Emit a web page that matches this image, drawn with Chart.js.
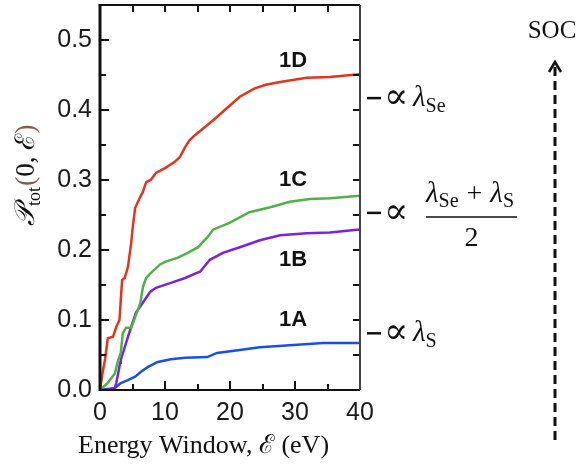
<!DOCTYPE html>
<html>
<head>
<meta charset="utf-8">
<script src="https://cdn.jsdelivr.net/npm/chart.js@4/dist/chart.umd.min.js"></script>
<style>
  html, body { margin: 0; padding: 0; background: #fff; }
  #wrap { width: 587px; height: 465px; }
</style>
</head>
<body>
<div id="wrap"><canvas id="socChart" width="587" height="465"></canvas></div>
<script>
// --- data ---
const energy1D = [0, 0.4, 0.8, 1.2, 2.0, 2.5, 3.0, 3.2, 3.4, 3.8, 4.3, 4.8, 5.0, 5.4, 6.2, 6.6, 7.1, 7.8, 8.6, 10, 11.5, 12.3, 13.1, 13.8, 14.6, 16.2, 17.5, 19.2, 21.5, 23.8, 25.5, 27.7, 31.8, 35.4, 37.4, 40];
const prob1D   = [0, 0.025, 0.045, 0.074, 0.076, 0.09, 0.1, 0.129, 0.157, 0.16, 0.176, 0.21, 0.229, 0.26, 0.276, 0.283, 0.297, 0.30, 0.31, 0.317, 0.326, 0.333, 0.347, 0.357, 0.364, 0.376, 0.386, 0.40, 0.419, 0.431, 0.436, 0.44, 0.446, 0.447, 0.449, 0.451];

const energy1C = [0, 1.2, 2.3, 2.8, 3.2, 3.5, 4.0, 4.8, 5.4, 6.2, 6.6, 7.1, 7.8, 9.2, 10, 12, 13.5, 15.1, 16.5, 17.4, 20, 23, 26.2, 29.2, 32.3, 35.4, 39.5, 40];
const prob1C   = [0, 0.01, 0.024, 0.043, 0.053, 0.081, 0.089, 0.089, 0.104, 0.124, 0.147, 0.16, 0.167, 0.179, 0.183, 0.189, 0.196, 0.204, 0.218, 0.229, 0.239, 0.254, 0.261, 0.269, 0.273, 0.274, 0.277, 0.278];

const energy1B = [0, 1.5, 2.3, 2.5, 2.8, 3.1, 3.2, 3.8, 4.3, 4.8, 5.5, 6.9, 7.7, 8.6, 10.9, 13.1, 14.8, 15.4, 16.9, 18.9, 21.5, 24.6, 27.7, 31.8, 35.4, 39.5, 40];
const prob1B   = [0, 0.001, 0.003, 0.01, 0.024, 0.039, 0.043, 0.061, 0.076, 0.09, 0.11, 0.129, 0.14, 0.146, 0.153, 0.16, 0.167, 0.169, 0.186, 0.196, 0.204, 0.214, 0.221, 0.224, 0.225, 0.229, 0.229];

const energy1A = [0, 2.3, 3.2, 4.3, 5.4, 6.3, 7.4, 8.9, 10.9, 13.1, 16.5, 18, 21.5, 24.6, 29.2, 34.3, 40];
const prob1A   = [0, 0.003, 0.01, 0.014, 0.019, 0.026, 0.033, 0.04, 0.044, 0.046, 0.047, 0.053, 0.057, 0.061, 0.064, 0.067, 0.067];

// curve labels
const curveNames  = ['1D', '1C', '1B', '1A'];
const curveLabelE = [29.7, 29.7, 29.7, 29.7];
const curveLabelP = [0.47, 0.30, 0.186, 0.10];

// levels of the right-hand markers
const markerLevels = [0.417, 0.253, 0.081];

const xTicks = { min: 0, max: 40, step: 10, minor: 5 };
const yTicks = { min: 0, max: 0.55, step: 0.1, minor: 0.05, top: 0.5 };

function pairs(xs, ys) {
    return xs.map(function (e, i) { return { x: e, y: ys[i] }; });
}

// draw a row of text runs (font, colour, baseline shift)
function drawRuns(ctx, x, y, runs) {
    runs.forEach(function (r) {
        ctx.font = r.font;
        ctx.fillStyle = r.color || '#111';
        ctx.fillText(r.t, x, y + (r.dy || 0));
        x += ctx.measureText(r.t).width + (r.gap || 0);
    });
    return x;
}

const serif = '"Liberation Serif", "DejaVu Serif", serif';
const tickFont = '"Liberation Sans", Arial, sans-serif';

const framePlugin = {
    id: 'frame',
    afterDatasetsDraw(chart) {
        const ctx = chart.ctx;
        const xs = chart.scales.x, ys = chart.scales.y;
        const a = chart.chartArea;
        ctx.save();
        ctx.strokeStyle = '#111';
        ctx.lineCap = 'butt';

        // ticks pointing inward on all four sides
        ctx.lineWidth = 2;
        for (let e = xTicks.min; e <= xTicks.max; e += xTicks.minor) {
            const px = Math.round(xs.getPixelForValue(e));
            const len = (e % xTicks.step === 0) ? 9 : 6;
            ctx.beginPath();
            ctx.moveTo(px, a.bottom); ctx.lineTo(px, a.bottom - len);
            ctx.moveTo(px, a.top); ctx.lineTo(px, a.top + 7);
            ctx.stroke();
        }
        for (let i = 0; i * yTicks.minor <= yTicks.top + 1e-9; i++) {
            const py = Math.round(ys.getPixelForValue(i * yTicks.minor));
            const len = (i % 2 === 0) ? 9 : 6;
            ctx.beginPath();
            ctx.moveTo(a.left, py); ctx.lineTo(a.left + len, py);
            ctx.moveTo(a.right, py); ctx.lineTo(a.right - 7, py);
            ctx.stroke();
        }

        // frame
        ctx.lineWidth = 2;
        ctx.beginPath();
        ctx.moveTo(a.left, a.top); ctx.lineTo(a.right, a.top);
        ctx.moveTo(a.left, a.bottom); ctx.lineTo(a.right, a.bottom);
        ctx.stroke();
        ctx.strokeStyle = '#444';
        ctx.beginPath();
        ctx.moveTo(a.right, a.top); ctx.lineTo(a.right, a.bottom);
        ctx.stroke();
        ctx.strokeStyle = '#111';
        ctx.lineWidth = 3;
        ctx.beginPath();
        ctx.moveTo(a.left, a.top - 1); ctx.lineTo(a.left, a.bottom + 1);
        ctx.stroke();
        ctx.restore();
    },
    afterDraw(chart) {
        const ctx = chart.ctx;
        const xs = chart.scales.x, ys = chart.scales.y;
        const a = chart.chartArea;
        ctx.save();

        // curve labels
        ctx.font = 'bold 22px ' + tickFont;
        ctx.fillStyle = '#111';
        ctx.textAlign = 'center';
        ctx.textBaseline = 'middle';
        curveNames.forEach(function (n, i) {
            ctx.fillText(n, xs.getPixelForValue(curveLabelE[i]), ys.getPixelForValue(curveLabelP[i]));
        });

        // x title
        ctx.textAlign = 'left';
        ctx.textBaseline = 'alphabetic';
        ctx.font = '26px ' + serif;
        ctx.fillStyle = '#111';
        ctx.fillText('Energy Window, \u2130 (eV)', 78, 453);

        // y title, rotated
        ctx.save();
        ctx.translate(34, 226);
        ctx.rotate(-Math.PI / 2);
        drawRuns(ctx, 0, 0, [
            { t: '\uD835\uDCAB', font: 'italic 28px ' + serif },
            { t: 'tot', font: '18px ' + serif, dy: 6, gap: 1 },
            { t: '(', font: '28px ' + serif, color: '#8a5a52' },
            { t: '0, \u2130', font: '27px ' + serif },
            { t: ')', font: '28px ' + serif, color: '#8a5a52' }
        ]);
        ctx.restore();

        // right-hand markers
        const dashX = a.right + 7;
        const propFont = '36px "DejaVu Serif", serif';
        const symFont = '28px ' + serif;
        const lamFont = 'italic 29px ' + serif;
        const subFont = '20px ' + serif;
        markerLevels.forEach(function (lv, i) {
            const py = ys.getPixelForValue(lv);
            ctx.strokeStyle = '#111';
            ctx.lineWidth = 2.5;
            ctx.beginPath();
            ctx.moveTo(dashX, py); ctx.lineTo(dashX + 14, py);
            ctx.stroke();
            ctx.textBaseline = 'alphabetic';
            if (i === 1) {
                drawRuns(ctx, dashX + 17, py + 10, [{ t: '\u221D', font: propFont }]);
                const fx = dashX + 59;
                const end = drawRuns(ctx, fx, py - 11, [
                    { t: '\u03BB', font: lamFont },
                    { t: 'Se', font: subFont, dy: 5, gap: 8 },
                    { t: '+', font: symFont, gap: 8 },
                    { t: '\u03BB', font: lamFont },
                    { t: 'S', font: subFont, dy: 5 }
                ]);
                ctx.lineWidth = 1.5;
                ctx.beginPath();
                ctx.moveTo(fx, py + 4); ctx.lineTo(end + 3, py + 4);
                ctx.stroke();
                ctx.font = symFont;
                ctx.textAlign = 'center';
                ctx.fillText('2', (fx + end + 3) / 2, py + 33);
                ctx.textAlign = 'left';
            } else {
                drawRuns(ctx, dashX + 17, py + 10, [{ t: '\u221D', font: propFont }]);
                drawRuns(ctx, dashX + 46, py + 8, [
                    { t: '\u03BB', font: lamFont },
                    { t: i === 0 ? 'Se' : 'S', font: subFont, dy: 6 }
                ]);
            }
        });

        // SOC arrow
        const ax = 555;
        ctx.font = '25px ' + serif;
        ctx.fillStyle = '#111';
        ctx.textAlign = 'center';
        ctx.fillText('SOC', 552, 38);
        ctx.strokeStyle = '#111';
        ctx.lineWidth = 3;
        ctx.setLineDash([9, 5]);
        ctx.beginPath();
        ctx.moveTo(ax, 67); ctx.lineTo(ax, 442);
        ctx.stroke();
        ctx.setLineDash([]);
        ctx.lineWidth = 2.5;
        ctx.beginPath();
        ctx.moveTo(ax - 6, 72); ctx.lineTo(ax, 62); ctx.lineTo(ax + 6, 72);
        ctx.stroke();
        ctx.restore();
    }
};

const lineStyle = { borderWidth: 2.5, pointRadius: 0, tension: 0, fill: false };

new Chart(document.getElementById('socChart'), {
    type: 'line',
    data: {
        datasets: [
            Object.assign({ label: '1D', data: pairs(energy1D, prob1D), borderColor: '#e3341f' }, lineStyle),
            Object.assign({ label: '1C', data: pairs(energy1C, prob1C), borderColor: '#52b048' }, lineStyle),
            Object.assign({ label: '1B', data: pairs(energy1B, prob1B), borderColor: '#7a22e0' }, lineStyle),
            Object.assign({ label: '1A', data: pairs(energy1A, prob1A), borderColor: '#1a4fe6' }, lineStyle)
        ]
    },
    options: {
        responsive: false,
        animation: false,
        layout: { padding: { left: 0, top: 5, right: 227, bottom: 0 } },
        plugins: { legend: { display: false }, tooltip: { enabled: false } },
        scales: {
            x: {
                type: 'linear',
                min: xTicks.min,
                max: xTicks.max,
                border: { display: false },
                grid: { display: false, drawTicks: false },
                ticks: {
                    stepSize: xTicks.step,
                    padding: 8,
                    color: '#1a1a1a',
                    font: { family: tickFont, size: 25 }
                },
                afterFit: function (s) {
                    s.height = 75;
                    s.paddingLeft = 0;
                    s.paddingRight = 0;
                }
            },
            y: {
                min: yTicks.min,
                max: yTicks.max,
                border: { display: false },
                grid: { display: false, drawTicks: false },
                ticks: {
                    stepSize: yTicks.step,
                    includeBounds: false,
                    padding: 8,
                    color: '#1a1a1a',
                    font: { family: tickFont, size: 25 },
                    callback: function (v) { return v.toFixed(1); }
                },
                afterFit: function (s) {
                    s.width = 100;
                    s.paddingTop = 0;
                    s.paddingBottom = 0;
                }
            }
        }
    },
    plugins: [framePlugin]
});
</script>
</body>
</html>
